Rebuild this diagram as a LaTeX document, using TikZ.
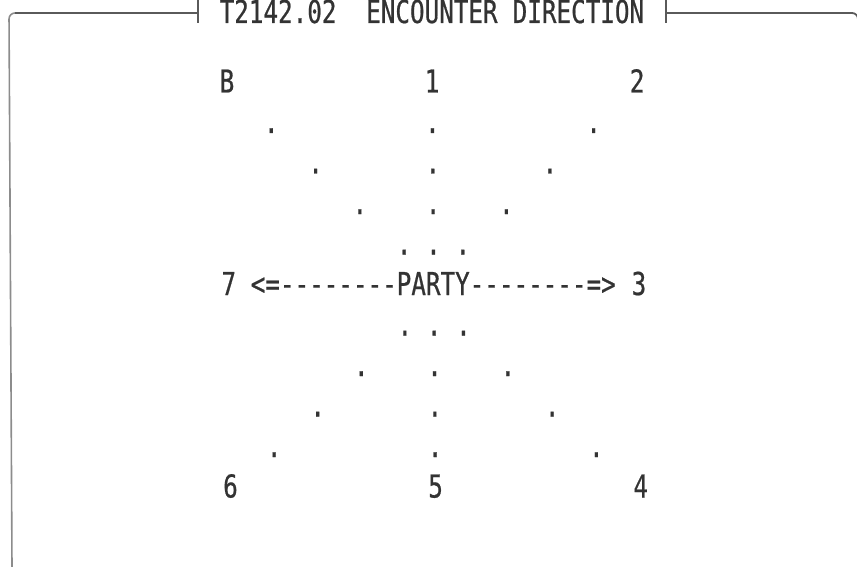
\documentclass[tikz,border=0pt]{standalone}
\usepackage{fontspec}
\newfontfamily\scrfont[FakeStretch=0.77,FakeBold=0.6]{DejaVu Sans Mono}
\definecolor{ink}{HTML}{333333}
\definecolor{topframe}{HTML}{5A5A5A}
\definecolor{sideframe}{HTML}{8C8C8C}
\newcommand\cellx[2]{227+14.65*#1+0.35*#2}
\newcommand\celly[1]{92.5+40.5*#1}
% name, column, row, text  (single character, centred in its cell)
\newcommand\chr[4]{\node[scr, anchor=base] (#1) at ({\cellx{#2}{#3}},{\celly{#3}}) {#4};}
% name, first column, row, text (string starting at that cell)
\newcommand\str[4]{\node[scr, anchor=base west] (#1) at ({\cellx{#2}{#3}-7.32},{\celly{#3}}) {#4};}
\begin{document}
\begin{tikzpicture}[x=1pt,y=-1pt,
  scr/.style={inner sep=0pt, outer sep=0pt, text=ink,
    font=\scrfont\fontsize{31.5}{31.5}\selectfont},
  topline/.style={draw=topframe, line width=1.8pt},
  sideline/.style={draw=sideframe, line width=1.6pt}]
\useasboundingbox (0,0) rectangle (857,567);

% frame
\coordinate (tl) at (9,13);
\coordinate (lb) at (12,567);
\coordinate (lt) at (198,13);
\coordinate (rt) at (666,13);
\coordinate (tr) at (858,13);
\coordinate (rb) at (858,567);
\draw[sideline, rounded corners=6pt] (lb) -- (tl) -- (lt);
\draw[topline] (tl) ++(6,0) -- (lt);
\draw[topline] (198,0) -- (198,23);
\draw[topline] (666,0) -- (666,23);
\draw[topline, rounded corners=6pt] (rt) -- (tr) -- (rb);

% title
\node[scr, anchor=base west] (t1) at (219.7,23) {T2142.02};
\node[scr, anchor=base west] (t2) at (219.7+14.65*10,23) {ENCOUNTER};
\node[scr, anchor=base west] (t3) at (219.7+14.65*20,23) {DIRECTION};

% row 0
\chr{nB}{0}{0}{B}
\chr{n1}{14}{0}{1}
\chr{n2}{28}{0}{2}
% upper dots
\chr{a1}{3}{1}{.}  \chr{b1}{14}{1}{.} \chr{c1}{25}{1}{.}
\chr{a2}{6}{2}{.}  \chr{b2}{14}{2}{.} \chr{c2}{22}{2}{.}
\chr{a3}{9}{3}{.}  \chr{b3}{14}{3}{.} \chr{c3}{19}{3}{.}
\chr{a4}{12}{4}{.} \chr{b4}{14}{4}{.} \chr{c4}{16}{4}{.}
% middle row
\chr{n7}{0}{5}{7}
\str{party}{2}{5}{<=--------PARTY--------=>}
\chr{n3}{28}{5}{3}
% lower dots
\chr{a6}{12}{6}{.} \chr{b6}{14}{6}{.} \chr{c6}{16}{6}{.}
\chr{a7}{9}{7}{.}  \chr{b7}{14}{7}{.} \chr{c7}{19}{7}{.}
\chr{a8}{6}{8}{.}  \chr{b8}{14}{8}{.} \chr{c8}{22}{8}{.}
\chr{a9}{3}{9}{.}  \chr{b9}{14}{9}{.} \chr{c9}{25}{9}{.}
% bottom row
\chr{n6}{0}{10}{6}
\chr{n5}{14}{10}{5}
\chr{n4}{28}{10}{4}
\end{tikzpicture}
\end{document}
